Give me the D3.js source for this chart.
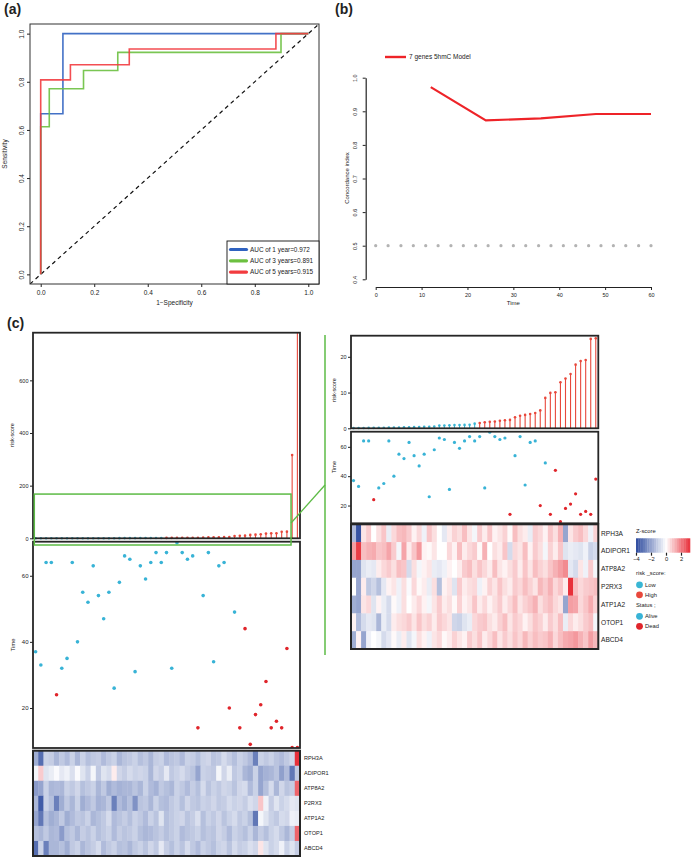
<!DOCTYPE html>
<html>
<head>
<meta charset="utf-8">
<script src="https://cdn.jsdelivr.net/npm/d3@7"></script>
<style>
  body { margin: 0; background: #fff; }
  svg { display: block; }
</style>
</head>
<body>
<svg id="fig" width="692" height="859"></svg>
<script>
// ---- data --------------------------------------------------------------
// (a) ROC curves
const roc1Fpr = [0, 0, 0.083, 0.083, 1];
const roc1Tpr = [0, 0.667, 0.667, 1, 1];
const roc3Fpr = [0, 0, 0.032, 0.032, 0.16, 0.16, 0.288, 0.288, 0.898, 0.898, 1];
const roc3Tpr = [0, 0.613, 0.613, 0.771, 0.771, 0.847, 0.847, 0.922, 0.922, 1, 1];
const roc5Fpr = [0, 0, 0.111, 0.111, 0.331, 0.331, 0.879, 0.879, 1];
const roc5Tpr = [0, 0.808, 0.808, 0.871, 0.871, 0.936, 0.936, 1, 1];
const rocLabels = ['AUC of 1 year=0.972', 'AUC of 3 years=0.891', 'AUC of 5 years=0.915'];

// (b) concordance index over time
const cTime = [12, 24, 36, 48, 60];
const cIndex = [0.972, 0.873, 0.879, 0.892, 0.892];
const refTime = [0, 2.7, 5.5, 8.2, 10.9, 13.6, 16.4, 19.1, 21.8, 24.5, 27.3, 30,
  32.7, 35.5, 38.2, 40.9, 43.6, 46.4, 49.1, 51.8, 54.5, 57.3, 60];
const refIndex = 0.5;

// (c) risk score, survival time, status (1 = dead) per sample, ordered by risk
const riskScore = [
  0.05, 0.07, 0.09, 0.11, 0.13, 0.15, 0.17, 0.19, 0.21, 0.23,
  0.26, 0.29, 0.32, 0.36, 0.40, 0.45, 0.50, 0.75, 0.80, 0.85,
  0.90, 0.92, 0.95, 1.00, 1.30, 1.50, 1.70, 1.80, 1.90, 2.10,
  2.25, 2.35, 3.10, 3.50, 3.75, 4.00, 4.30, 5.00, 8.50, 9.90,
  10.1, 12.9, 13.9, 15.2, 17.8, 18.8, 19.1, 25.0, 25.2, 316,
  790];
const lowCount = 25;
const survTime = [
  37, 33, 64, 64, 24, 32, 35, 64, 40, 55,
  52, 63, 54, 47, 55, 26, 58, 66, 65, 31,
  63, 59, 64, 67, 64, 67, 32, 70, 67, 65,
  66, 14, 54, 67, 34, 63, 64, 20, 49, 14,
  44, 9, 18, 21, 28, 14, 16, 14, 38, 8,
  8];
const status = [
  0, 0, 0, 0, 1, 0, 0, 0, 0, 0,
  0, 0, 0, 0, 0, 0, 0, 0, 0, 0,
  0, 0, 0, 0, 0, 0, 0, 0, 0, 0,
  0, 1, 0, 0, 0, 0, 0, 1, 0, 1,
  1, 1, 1, 1, 1, 1, 1, 1, 1, 1,
  1];

const genes = ['RPH3A', 'ADIPOR1', 'ATP8A2', 'P2RX3', 'ATP1A2', 'OTOP1', 'ABCD4'];

// left heatmap (all 51 samples)
const leftRPH3A = [
  -1.8, -3.2, -1.0, -1.1, -1.6, -1.2, -1.5, -1.0, -1.6, -1.0,
  -1.4, -1.2, -1.1, -1.5, -1.2, -1.0, -1.6, -1.3, -1.2, -1.0,
  -1.4, -1.2, -1.6, -1.1, -1.0, -1.5, -1.3, -1.2, -1.5, -1.0,
  -1.1, -1.4, -1.0, -0.9, -1.3, -1.2, -0.8, -1.1, -1.4, -1.0,
  -1.2, -1.5, -2.8, -1.0, -1.2, -1.0, -1.3, -1.5, -1.2, -0.9,
  3.2];
const leftADIPOR1 = [
  -0.2, 0.8, -0.6, -0.4, -0.1, -0.5, -0.3, -0.7, -0.1, -0.6,
  -1.0, -0.2, -1.2, -0.6, -0.8, 0.3, -0.9, -1.1, -0.8, -1.0,
  -0.9, -1.0, -1.6, -0.9, -1.1, -0.5, -1.2, -1.0, -0.8, -1.1,
  -1.3, -2.0, -1.0, -1.1, -1.2, -0.2, -0.9, -0.4, -1.2, -1.0,
  -1.6, -1.8, -1.0, -2.0, -1.7, -1.6, -1.3, -2.1, -1.5, -3.0,
  -1.2];
const leftATP8A2 = [
  -2.2, -2.0, -1.0, -1.6, -1.5, -1.6, -1.0, -1.2, -0.9, -1.4,
  -1.2, -1.0, -1.6, -1.2, -1.8, -1.5, -1.7, -1.6, -1.6, -1.3,
  -1.6, -1.0, -1.5, -1.7, -1.2, -1.4, -1.6, -1.0, -1.2, -1.5,
  -1.1, -1.4, -0.8, -1.3, -1.0, -1.2, -0.9, -1.0, -1.3, -0.9,
  -0.8, -1.5, -1.0, -2.0, -1.4, -0.8, -1.6, -0.9, -1.3, -1.1,
  2.4];
const leftP2RX3 = [
  -1.6, -3.6, -1.0, -1.4, -2.8, -1.8, -1.2, -1.6, -1.0, -1.8,
  -1.5, -1.2, -1.7, -1.6, -1.2, -2.8, -1.5, -1.8, -1.4, -2.4,
  -1.3, -1.2, -1.6, -1.0, -1.4, -1.5, -1.2, -1.0, -1.4, -0.9,
  -1.2, -1.3, -1.0, -1.1, -0.9, -1.2, -1.1, -0.8, -1.0, -0.9,
  -1.1, -0.7, -0.9, 0.9, -0.3, -1.1, -0.6, -1.0, -0.8, -0.5,
  -0.6];
const leftATP1A2 = [
  -2.0, -3.0, -1.4, -1.8, -1.6, -1.2, -1.8, -1.5, -1.2, -1.3,
  -1.0, -1.6, -1.4, -1.2, -0.8, -1.5, -1.3, -1.1, -1.4, -1.0,
  -1.2, -1.5, -1.0, -1.3, -0.6, -1.4, -1.2, -1.0, -0.9, -1.3,
  -1.1, -0.7, -1.4, -1.0, -1.2, -0.9, -1.3, -1.0, -0.8, -1.2,
  -1.0, -1.4, -3.0, -0.2, -0.6, -1.0, -1.2, -0.8, -0.9, -0.3,
  -0.4];
const leftOTOP1 = [
  -1.4, -1.6, -1.2, -1.6, -1.5, -2.2, -1.4, -1.2, -1.6, -1.1,
  -1.3, -1.0, -1.4, -1.2, -1.0, -1.5, -1.1, -1.3, -1.2, -1.0,
  -1.4, -1.6, -1.5, -1.3, -1.1, -1.4, -1.2, -1.0, -1.5, -1.3,
  -1.2, -1.0, -1.4, -1.2, -1.3, -0.9, -1.1, -1.5, -1.0, -1.2,
  -1.4, -1.0, -1.6, -1.1, -1.4, -1.0, -0.8, -1.2, -1.6, -1.1,
  2.4];
const leftABCD4 = [
  -3.2, -1.0, -2.8, -1.6, -1.6, -1.4, -1.8, -1.2, -1.0, -1.6,
  -1.3, -1.1, -0.8, -1.5, -1.2, -1.0, -1.4, -1.3, -1.6, -1.2,
  -1.0, -1.3, -0.9, -1.2, -0.5, -1.1, -1.4, -1.0, -1.3, -0.8,
  -1.2, -1.5, -1.0, -1.2, -1.4, -1.0, -0.9, -1.3, -0.8, -1.1,
  -1.0, -0.7, -0.9, 0.4, -0.6, -1.0, -0.8, -0.3, -1.0, -0.6,
  -1.1];

// right heatmap (first 49 samples, re-scaled)
const rightRPH3A = [
  -1.5, -3.8, 0.4, 0.8, 0.0, 0.5, 0.9, -0.4, 0.6, 1.0,
  1.1, 0.8, 0.2, 0.6, -0.3, 0.9, 0.5, 0.0, -0.5, 0.3,
  0.7, 0.5, 1.0, 0.4, -0.2, 0.8, 0.3, 0.9, 0.2, 0.4,
  0.7, 0.1, 1.0, 0.5, 0.3, -0.4, 0.8, 0.6, 0.2, 0.9,
  0.5, 1.2, -2.0, 0.4, 0.8, 1.0, 0.6, -0.3, 0.7];
const rightADIPOR1 = [
  1.5, 3.0, 1.0, 1.2, 1.3, 0.9, 1.0, 1.4, 0.8, -0.2,
  1.4, 0.3, 0.9, 1.6, 0.2, 0.1, 0.4, 0.0, 0.0, 0.6,
  0.2, 1.0, 0.3, 0.6, 0.8, 0.1, 1.2, 0.0, 0.5, 0.3,
  0.9, -0.8, 0.6, 0.4, 1.0, 0.2, 0.8, 0.5, -0.2, 0.7,
  0.3, 0.9, -0.6, -0.4, -0.5, -0.6, -0.3, -1.0, -0.8];
const rightATP8A2 = [
  -2.0, -2.0, -0.6, -0.4, -0.5, 0.3, 0.6, 0.8, 0.5, 1.0,
  0.9, -0.8, 0.5, -0.2, 0.2, 0.4, -0.4, -0.5, -0.3, 0.2,
  0.0, 0.3, 0.8, 1.0, 0.5, 0.9, 0.6, 0.3, 1.0, 0.4,
  0.2, 0.5, 0.8, 0.3, 0.9, 0.4, 1.0, 0.7, 0.5, 0.9,
  1.2, 1.5, 1.8, -0.5, -0.8, 0.4, -0.3, 0.8, -0.2];
const rightP2RX3 = [
  0.0, -2.0, 0.3, -1.2, -0.9, -1.4, -0.5, 0.2, 0.4, -0.3,
  0.5, -0.1, 0.6, 0.1, 0.3, -0.4, 0.5, -1.4, 0.2, 0.4,
  -0.6, 0.8, 0.3, 0.5, 0.6, -0.3, 0.2, 0.7, 0.4, 0.9,
  0.5, 0.3, 0.8, 0.6, 1.0, 0.7, 0.4, 1.1, 0.8, 1.2,
  0.6, 0.9, 0.3, 3.4, 1.0, 0.6, 0.8, 0.9, 1.0];
const rightATP1A2 = [
  -1.8, -2.0, 0.4, 0.6, -0.6, 0.2, -0.4, -0.8, 0.1, -0.3,
  0.5, 0.0, 0.3, 0.6, 0.2, -0.2, 0.4, 0.8, 0.3, 0.5,
  0.1, 0.7, 0.2, 0.4, 0.9, 0.3, 0.6, 0.2, 0.5, 0.8,
  0.3, 0.6, 1.0, 0.4, 0.7, 0.9, 1.2, 0.5, 0.8, 1.0,
  0.6, 0.4, -2.0, 1.5, 1.4, 0.6, 0.9, 1.3, 0.7];
const rightOTOP1 = [
  0.2, -1.5, -0.8, -0.5, -0.6, -1.6, -0.4, -0.8, 0.3, 0.5,
  0.6, 0.8, 0.4, 0.9, 0.5, 0.7, 0.3, 0.8, 0.6, 0.4,
  -0.9, -1.0, -0.6, -0.4, 0.6, 0.8, 0.9, 0.5, 0.3, 0.7,
  1.0, 0.4, 0.8, 0.6, 0.2, 0.5, 0.9, 0.7, 0.3, 0.8,
  0.5, 1.0, -0.4, 0.6, 0.3, 0.5, 0.8, 1.0, -0.2];
const rightABCD4 = [
  -1.8, 0.2, -2.0, -0.3, 0.0, -0.2, -0.8, -0.5, 0.1, -0.4,
  0.3, -0.6, -0.2, 0.5, 0.2, -0.3, 0.4, 0.6, 0.1, 0.3,
  0.7, 0.4, 0.2, 0.8, 0.5, 0.9, 0.3, 0.6, 1.0, 0.4,
  0.8, 0.5, 0.9, 0.6, 1.1, 0.7, 1.0, 0.8, 0.9, 1.2,
  0.6, 1.0, 1.3, 1.4, 1.6, 1.2, 0.9, 1.5, 1.1];

const zTicks = [-4, -2, 0, 2];

// ---- setup -------------------------------------------------------------
const FONT = "'Liberation Sans', Arial, Helvetica, sans-serif";
const INK = '#222';
const svg = d3.select('#fig').style('font-family', FONT);
svg.append('rect').attr('width', 692).attr('height', 859).attr('fill', '#fff');
const defs = svg.append('defs');

function styleAxis(g, fs) {
  g.attr('font-family', FONT);
  g.selectAll('.tick line').attr('stroke', INK);
  g.selectAll('.tick text').attr('font-size', fs).attr('fill', INK);
}

function addText(x, y, t, opts) {
  opts = opts || {};
  const el = svg.append('text')
    .attr('x', x).attr('y', y)
    .attr('font-size', opts.size || 7)
    .attr('fill', opts.fill || INK)
    .attr('text-anchor', opts.anchor || 'start')
    .text(t);
  if (opts.bold) el.attr('font-weight', 'bold');
  if (opts.rotate) el.attr('transform', `rotate(-90,${x},${y})`);
  return el;
}

function clip(id, x0, y0, x1, y1) {
  defs.append('clipPath').attr('id', id)
    .append('rect').attr('x', x0).attr('y', y0).attr('width', x1 - x0).attr('height', y1 - y0);
  return `url(#${id})`;
}

// rotate y tick labels so they run along the axis (R style)
function rotateYLabels(g, off) {
  g.selectAll('.tick text')
    .attr('x', null).attr('dy', null)
    .attr('text-anchor', 'middle')
    .attr('transform', `translate(${-off},0) rotate(-90)`);
}

// ---- (a) ROC -----------------------------------------------------------
addText(4, 14, '(a)', { size: 14, bold: true });
const xA = d3.scaleLinear().domain([-0.04, 1.04]).range([30, 319]);
const yA = d3.scaleLinear().domain([-0.04, 1.04]).range([284, 24]);
const aTicks = [0, 0.2, 0.4, 0.6, 0.8, 1];

svg.append('g').attr('transform', 'translate(0,284)')
  .call(d3.axisBottom(xA).tickValues(aTicks).tickFormat(d3.format('.1f')).tickSize(3).tickPadding(3))
  .call(g => g.select('.domain').remove())
  .call(g => styleAxis(g, 6.5));
svg.append('g').attr('transform', 'translate(30,0)')
  .call(d3.axisLeft(yA).tickValues(aTicks).tickFormat(d3.format('.1f')).tickSize(3))
  .call(g => g.select('.domain').remove())
  .call(g => styleAxis(g, 6.5))
  .call(g => rotateYLabels(g, 6.5));

addText(174.5, 305, '1\u2212Specificity', { size: 6.5, anchor: 'middle' });
addText(7, 154, 'Sensitivity', { size: 6.5, anchor: 'middle', rotate: true });

const clipA = clip('clipA', 30, 24, 319, 284);
const gA = svg.append('g').attr('clip-path', clipA);
gA.append('line')
  .attr('x1', xA(-0.04)).attr('y1', yA(-0.04)).attr('x2', xA(1.04)).attr('y2', yA(1.04))
  .attr('stroke', '#111').attr('stroke-width', 1.2).attr('stroke-dasharray', '4,3.5');

const rocSeries = [
  { fpr: roc1Fpr, tpr: roc1Tpr, color: '#2f62c0' },
  { fpr: roc3Fpr, tpr: roc3Tpr, color: '#6cc040' },
  { fpr: roc5Fpr, tpr: roc5Tpr, color: '#f23b3f' }
];
const rocLine = d3.line().x(d => xA(d[0])).y(d => yA(d[1]));
rocSeries.forEach(s => {
  gA.append('path')
    .attr('d', rocLine(d3.zip(s.fpr, s.tpr)))
    .attr('fill', 'none').attr('stroke', s.color)
    .attr('stroke-width', 1.6).attr('stroke-opacity', 0.9);
});

svg.append('rect').attr('x', 30).attr('y', 24).attr('width', 289).attr('height', 260)
  .attr('fill', 'none').attr('stroke', '#333').attr('stroke-width', 1);

// legend
const legA = svg.append('g');
legA.append('rect').attr('x', 227).attr('y', 241).attr('width', 92).attr('height', 43)
  .attr('fill', '#fff').attr('stroke', '#111').attr('stroke-width', 0.9);
rocSeries.forEach((s, i) => {
  const y = 249.5 + i * 11.3;
  legA.append('line').attr('x1', 230.5).attr('x2', 246.5).attr('y1', y).attr('y2', y)
    .attr('stroke', s.color).attr('stroke-width', 3.2).attr('stroke-linecap', 'round');
  legA.append('text').attr('x', 250).attr('y', y + 2.3).attr('font-size', 6.4)
    .attr('fill', INK).text(rocLabels[i]);
});

// ---- (b) C-index -------------------------------------------------------
addText(335, 14, '(b)', { size: 14, bold: true });
const xB = d3.scaleLinear().domain([0, 60]).range([375.7, 651]);
const yB = d3.scaleLinear().domain([0.4, 1.0]).range([279.3, 77.7]);

svg.append('g').attr('transform', 'translate(0,287)')
  .call(d3.axisBottom(xB).tickValues([0, 10, 20, 30, 40, 50, 60]).tickSize(3).tickSizeOuter(0).tickPadding(3))
  .call(g => g.select('.domain').attr('stroke', INK).attr('stroke-width', 1.2))
  .call(g => styleAxis(g, 5.5));
svg.append('g').attr('transform', 'translate(365.7,0)')
  .call(d3.axisLeft(yB).tickValues([0.4, 0.5, 0.6, 0.7, 0.8, 0.9, 1.0]).tickFormat(d3.format('.1f')).tickSize(3).tickSizeOuter(0))
  .call(g => g.select('.domain').attr('stroke', INK).attr('stroke-width', 1.2))
  .call(g => styleAxis(g, 5.5))
  .call(g => rotateYLabels(g, 8.3));

addText(513.3, 305, 'Time', { size: 6, anchor: 'middle' });
addText(348.5, 178, 'Concordance index', { size: 6, anchor: 'middle', rotate: true });

svg.append('g').selectAll('circle').data(refTime).join('circle')
  .attr('cx', d => xB(d)).attr('cy', yB(refIndex)).attr('r', 1.6).attr('fill', '#b3b3b3');

svg.append('path')
  .attr('d', d3.line().x(d => xB(d[0])).y(d => yB(d[1]))(d3.zip(cTime, cIndex)))
  .attr('fill', 'none').attr('stroke', '#ee2328').attr('stroke-width', 2.2);

svg.append('line').attr('x1', 385).attr('x2', 406).attr('y1', 57).attr('y2', 57)
  .attr('stroke', '#ee2328').attr('stroke-width', 2.4);
addText(409, 59.3, '7 genes 5hmC Model', { size: 6.5 });

// ---- (c) risk panels ---------------------------------------------------
addText(7, 328, '(c)', { size: 14, bold: true });

const LOW = '#3ab6d4', HIGH = '#e8483c';
const ALIVE = '#38b3d6', DEAD = '#e0252b';
const BOX = '#262626';

const nL = riskScore.length;   // 51
const nR = 49;                 // zoomed view drops the two extreme cases
const xL = d3.scaleBand().domain(d3.range(nL)).range([33, 300]);
const xR = d3.scaleBand().domain(d3.range(nR)).range([351, 598.3]);
const yRiskL = d3.scaleLinear().domain([0, 781]).range([538.3, 332.7]);
const yRiskR = d3.scaleLinear().domain([0, 25.9]).range([428.3, 335.7]);
const yTimeL = d3.scaleLinear().domain([7.9, 70.3]).range([748, 541.7]);
const yTimeR = d3.scaleLinear().domain([7.9, 70.3]).range([523.3, 431.7]);
const yHeatL = d3.scaleBand().domain(genes).range([750.7, 856]);
const yHeatR = d3.scaleBand().domain(genes).range([524.3, 649]);

const heatLeft = [leftRPH3A, leftADIPOR1, leftATP8A2, leftP2RX3, leftATP1A2, leftOTOP1, leftABCD4];
const heatRight = [rightRPH3A, rightADIPOR1, rightATP8A2, rightP2RX3, rightATP1A2, rightOTOP1, rightABCD4];
const zColor = d3.scaleLinear().domain([-4, 0, 3.2]).range(['#2c4a9e', '#ffffff', '#e8303a']).clamp(true);

function yAxisC(y, x, ticks, fs) {
  svg.append('g').attr('transform', `translate(${x},0)`)
    .call(d3.axisLeft(y).tickValues(ticks).tickSize(3).tickPadding(1.5))
    .call(g => g.select('.domain').remove())
    .call(g => styleAxis(g, fs));
}

function box(x0, y0, x1, y1, w) {
  svg.append('rect').attr('x', x0).attr('y', y0).attr('width', x1 - x0).attr('height', y1 - y0)
    .attr('fill', 'none').attr('stroke', BOX).attr('stroke-width', w || 1.8);
}

function lollipops(xs, ys, n, clipId, x0, y0, x1, y1, r) {
  const g = svg.append('g').attr('clip-path', clip(clipId, x0, y0, x1, y1));
  const data = riskScore.slice(0, n).map((v, i) => ({ i, v, low: i < lowCount }));
  const cx = d => xs(d.i) + xs.bandwidth() / 2;
  g.selectAll('line').data(data).join('line')
    .attr('x1', cx).attr('x2', cx)
    .attr('y1', ys(0)).attr('y2', d => ys(d.v))
    .attr('stroke', d => d.low ? LOW : HIGH).attr('stroke-width', 1.1);
  g.selectAll('circle').data(data).join('circle')
    .attr('cx', cx).attr('cy', d => ys(d.v)).attr('r', r)
    .attr('fill', d => d.low ? LOW : HIGH);
}

function timeDots(xs, ys, n, clipId, x0, y0, x1, y1, r) {
  const g = svg.append('g').attr('clip-path', clip(clipId, x0, y0, x1, y1));
  const data = survTime.slice(0, n).map((t, i) => ({ i, t, dead: status[i] === 1 }));
  g.selectAll('circle').data(data).join('circle')
    .attr('cx', d => xs(d.i) + xs.bandwidth() / 2).attr('cy', d => ys(d.t)).attr('r', r)
    .attr('fill', d => d.dead ? DEAD : ALIVE);
}

function heatmap(xs, ys, rows, n, labelX, fs) {
  const g = svg.append('g');
  rows.forEach((vals, r) => {
    g.selectAll(null).data(vals.slice(0, n)).join('rect')
      .attr('x', (d, i) => xs(i)).attr('y', ys(genes[r]))
      .attr('width', xs.bandwidth() + 0.4).attr('height', ys.bandwidth() + 0.4)
      .attr('fill', d => zColor(d));
  });
  const [hx0, hx1] = xs.range(), [hy0, hy1] = ys.range();
  box(hx0, hy0, hx1, hy1, 2);
  genes.forEach(gn => {
    svg.append('text').attr('x', labelX).attr('y', ys(gn) + ys.bandwidth() / 2 + fs * 0.36)
      .attr('font-size', fs).attr('fill', INK).text(gn);
  });
}

// left column (all samples)
lollipops(xL, yRiskL, nL, 'clipRL', 33, 332.7, 300, 540, 1.3);
yAxisC(yRiskL, 33, [0, 200, 400, 600], 5.5);
box(33, 332.7, 300, 538.3);
addText(14, 435, 'risk-score', { size: 5.5, anchor: 'middle', rotate: true });

timeDots(xL, yTimeL, nL, 'clipTL', 33, 541.7, 300, 748, 1.8);
yAxisC(yTimeL, 33, [20, 40, 60], 6);
box(33, 541.7, 300, 748);
addText(15, 645, 'Time', { size: 6, anchor: 'middle', rotate: true });

heatmap(xL, yHeatL, heatLeft, nL, 304, 5.6);

// right column (zoomed, first 49 samples)
lollipops(xR, yRiskR, nR, 'clipRR', 351, 335.7, 598.3, 430, 1.3);
yAxisC(yRiskR, 351, [0, 10, 20], 5.5);
box(351, 335.7, 598.3, 428.3);
addText(336, 390, 'risk-score', { size: 5.5, anchor: 'middle', rotate: true });

timeDots(xR, yTimeR, nR, 'clipTR', 351, 431.7, 598.3, 523.3, 1.6);
yAxisC(yTimeR, 351, [20, 40, 60], 5.5);
box(351, 431.7, 598.3, 523.3);
addText(336, 467, 'Time', { size: 5.5, anchor: 'middle', rotate: true });

heatmap(xR, yHeatR, heatRight, nR, 601, 6.6);

// green zoom indicator
const GREEN = '#5dbb46';
const gx1 = xL(nR - 1) + xL.bandwidth() + 1.5;
svg.append('rect').attr('x', 34.3).attr('y', yRiskL(168)).attr('width', gx1 - 34.3)
  .attr('height', 545 - yRiskL(168))
  .attr('fill', 'none').attr('stroke', GREEN).attr('stroke-width', 1.5);
svg.append('line').attr('x1', gx1).attr('y1', 523).attr('x2', 325).attr('y2', 485)
  .attr('stroke', GREEN).attr('stroke-width', 1.3);
svg.append('line').attr('x1', 325).attr('y1', 335).attr('x2', 325).attr('y2', 655)
  .attr('stroke', GREEN).attr('stroke-width', 1.5);

// ---- (c) legend --------------------------------------------------------
const xZ = d3.scaleLinear().domain([-4, 3.2]).range([636, 690]);
addText(636, 533, 'Z-score', { size: 5.8 });
const zSteps = d3.range(-4, 3.2, 0.3);
svg.append('g').selectAll('rect').data(zSteps).join('rect')
  .attr('x', d => xZ(d)).attr('y', 538.3)
  .attr('width', d => xZ(Math.min(d + 0.3, 3.2)) - xZ(d) + 0.3).attr('height', 14.4)
  .attr('fill', d => zColor(d + 0.15));
svg.append('g').attr('transform', 'translate(0,552.7)')
  .call(d3.axisBottom(xZ).tickValues(zTicks).tickSize(3).tickPadding(1.5).tickFormat(d => d < 0 ? '\u2212' + Math.abs(d) : d))
  .call(g => g.select('.domain').remove())
  .call(g => styleAxis(g, 5.8))
  .call(g => g.selectAll('.tick line').attr('stroke-width', 1.2));

const legendGroups = [
  { title: 'risk _score:', y: 575, items: [['Low', LOW], ['High', HIGH]] },
  { title: 'Status ;', y: 606.5, items: [['Alive', ALIVE], ['Dead', DEAD]] }
];
legendGroups.forEach(grp => {
  addText(636, grp.y, grp.title, { size: 5.8 });
  grp.items.forEach((it, k) => {
    const cy = grp.y + 9.8 + k * 10;
    svg.append('circle').attr('cx', 639.5).attr('cy', cy).attr('r', 3.4).attr('fill', it[1]);
    addText(645, cy + 2.1, it[0], { size: 5.8 });
  });
});
</script>
</body>
</html>
